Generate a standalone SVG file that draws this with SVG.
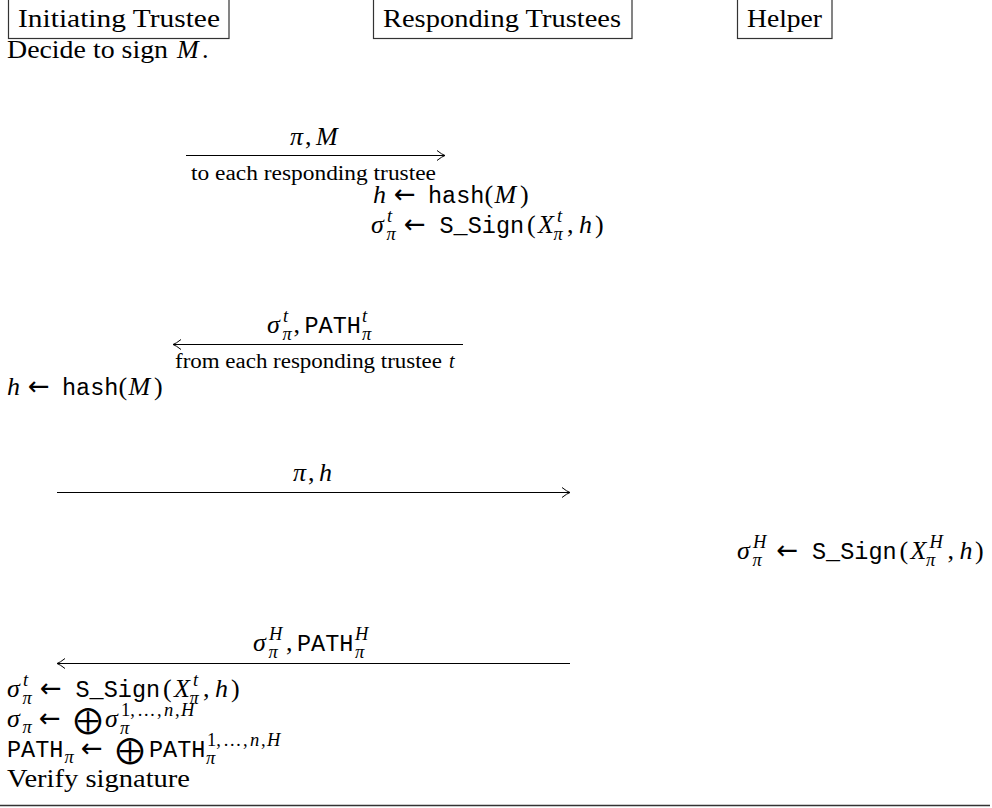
<svg xmlns="http://www.w3.org/2000/svg" width="992" height="808" viewBox="0 0 992 808">
<defs>
<style>
.bg{fill:#fff}
.box{fill:none;stroke:#333;stroke-width:1.2}
.tx{font-family:"Liberation Serif","DejaVu Serif",serif;font-size:26px;fill:#000}
.it{font-style:italic}
.tt{font-family:"Liberation Mono","DejaVu Sans Mono",monospace;font-size:23.5px}
.sc{font-size:18.5px}
.lb{font-size:20px}
.ar{font-family:"DejaVu Sans","DejaVu Serif",sans-serif;font-size:26px}
.op{font-family:"DejaVu Sans","DejaVu Serif",sans-serif;font-size:28px}
.ln{fill:none;stroke:#000;stroke-width:1.1}
.rule{stroke:#333;stroke-width:1.6}
</style>
<marker id="ah" viewBox="-10 -6 12 12" refX="0" refY="0" markerWidth="12" markerHeight="12" markerUnits="userSpaceOnUse" orient="auto">
<path d="M -8,-5 Q -3,-1 0,0 Q -3,1 -8,5" fill="none" stroke="#000" stroke-width="1"/>
</marker>
</defs>
<rect class="bg" x="0" y="0" width="992" height="808"/>

<g id="node-initiating-trustee">
<rect class="box" x="8.5" y="-1" width="220.5" height="39.5"/>
<text class="tx" x="18" y="27" textLength="202" lengthAdjust="spacingAndGlyphs">Initiating Trustee</text>
</g>
<g id="node-responding-trustees">
<rect class="box" x="373.5" y="-1" width="258.5" height="39.5"/>
<text class="tx" x="383" y="27" textLength="238" lengthAdjust="spacingAndGlyphs">Responding Trustees</text>
</g>
<g id="node-helper">
<rect class="box" x="737.5" y="-1" width="94.5" height="39.5"/>
<text class="tx" x="747" y="27" textLength="75" lengthAdjust="spacingAndGlyphs">Helper</text>
</g>

<g id="step-decide">
<text class="tx"><tspan x="7" y="58" textLength="161" lengthAdjust="spacingAndGlyphs">Decide to sign</tspan><tspan class="it" x="177" y="58">M</tspan><tspan x="202" y="58">.</tspan></text>
</g>

<g id="step-responder-compute">
<text class="tx"><tspan class="it" x="373" y="203">h</tspan><tspan class="ar" x="394" y="203">←</tspan><tspan class="tt" x="428" y="203">hash</tspan><tspan x="484.5" y="203">(</tspan><tspan class="it" x="494.5" y="203">M</tspan><tspan x="520" y="203">)</tspan></text>
<text class="tx"><tspan class="it" x="371" y="233">σ</tspan><tspan class="it sc" x="387" y="222">t</tspan><tspan class="it sc" x="386.5" y="240">π</tspan><tspan class="ar" x="404" y="233">←</tspan><tspan class="tt" x="439.5" y="233">S_Sign</tspan><tspan x="527" y="233">(</tspan><tspan class="it" x="538" y="233">X</tspan><tspan class="it sc" x="557" y="222">t</tspan><tspan class="it sc" x="553.5" y="240">π</tspan><tspan x="567" y="233">,</tspan><tspan class="it" x="579" y="233">h</tspan><tspan x="595" y="233">)</tspan></text>
</g>

<g id="step-initiator-hash">
<text class="tx"><tspan class="it" x="7" y="395">h</tspan><tspan class="ar" x="28" y="395">←</tspan><tspan class="tt" x="62" y="395">hash</tspan><tspan x="118.5" y="395">(</tspan><tspan class="it" x="128.5" y="395">M</tspan><tspan x="154" y="395">)</tspan></text>
</g>

<g id="step-helper-sign">
<text class="tx"><tspan class="it" x="737" y="559">σ</tspan><tspan class="it sc" x="753" y="548">H</tspan><tspan class="it sc" x="752.5" y="566">π</tspan><tspan class="ar" x="776.5" y="559">←</tspan><tspan class="tt" x="812" y="559">S_Sign</tspan><tspan x="899.5" y="559">(</tspan><tspan class="it" x="910.5" y="559">X</tspan><tspan class="it sc" x="929.5" y="548">H</tspan><tspan class="it sc" x="926" y="566">π</tspan><tspan x="947.5" y="559">,</tspan><tspan class="it" x="959.5" y="559">h</tspan><tspan x="975" y="559">)</tspan></text>
</g>

<g id="step-initiator-combine">
<text class="tx"><tspan class="it" x="7" y="697">σ</tspan><tspan class="it sc" x="23" y="686">t</tspan><tspan class="it sc" x="22.5" y="704">π</tspan><tspan class="ar" x="40" y="697">←</tspan><tspan class="tt" x="75.5" y="697">S_Sign</tspan><tspan x="163" y="697">(</tspan><tspan class="it" x="174" y="697">X</tspan><tspan class="it sc" x="193" y="686">t</tspan><tspan class="it sc" x="189.5" y="704">π</tspan><tspan x="203" y="697">,</tspan><tspan class="it" x="215" y="697">h</tspan><tspan x="231" y="697">)</tspan></text>
<text class="tx"><tspan class="it" x="7" y="727">σ</tspan><tspan class="it sc" x="22.5" y="733">π</tspan><tspan class="ar" x="39" y="727">←</tspan><tspan class="op" x="74" y="729">⨁</tspan><tspan class="it" x="105" y="727">σ</tspan><tspan class="sc" x="121" y="716">1,</tspan><tspan class="sc" x="137" y="716">…</tspan><tspan class="sc" x="157" y="716">,</tspan><tspan class="it sc" x="164" y="716">n</tspan><tspan class="sc" x="175" y="716">,</tspan><tspan class="it sc" x="181" y="716">H</tspan><tspan class="it sc" x="120" y="734">π</tspan></text>
<text class="tx"><tspan class="tt" x="7" y="757">PATH</tspan><tspan class="it sc" x="64.5" y="763">π</tspan><tspan class="ar" x="81" y="757">←</tspan><tspan class="op" x="116" y="759">⨁</tspan><tspan class="tt" x="149" y="757">PATH</tspan><tspan class="sc" x="207" y="746">1,</tspan><tspan class="sc" x="223" y="746">…</tspan><tspan class="sc" x="243" y="746">,</tspan><tspan class="it sc" x="250" y="746">n</tspan><tspan class="sc" x="261" y="746">,</tspan><tspan class="it sc" x="267" y="746">H</tspan><tspan class="it sc" x="206" y="764">π</tspan></text>
<text class="tx" x="7" y="787" textLength="183" lengthAdjust="spacingAndGlyphs">Verify signature</text>
</g>

<g id="connectors">
<line class="ln" x1="186" y1="155.5" x2="445" y2="155.5" marker-end="url(#ah)"/>
<line class="ln" x1="463" y1="344.5" x2="173" y2="344.5" marker-end="url(#ah)"/>
<line class="ln" x1="57" y1="492.5" x2="570" y2="492.5" marker-end="url(#ah)"/>
<line class="ln" x1="570" y1="663.5" x2="57" y2="663.5" marker-end="url(#ah)"/>
</g>

<g id="connector-labels">
<text class="tx"><tspan class="it" x="290" y="145">π</tspan><tspan x="305" y="145">,</tspan><tspan class="it" x="316" y="145">M</tspan></text>
<text class="tx lb" x="191" y="180" textLength="245" lengthAdjust="spacingAndGlyphs">to each responding trustee</text>
<text class="tx"><tspan class="it" x="267" y="333">σ</tspan><tspan class="it sc" x="283" y="322">t</tspan><tspan class="it sc" x="282.5" y="340">π</tspan><tspan x="293.5" y="333">,</tspan><tspan class="tt" x="304.5" y="333">PATH</tspan><tspan class="it sc" x="362" y="322">t</tspan><tspan class="it sc" x="362" y="340">π</tspan></text>
<text class="tx lb"><tspan x="175" y="368" textLength="267" lengthAdjust="spacingAndGlyphs">from each responding trustee</tspan><tspan class="it" x="449" y="368">t</tspan></text>
<text class="tx"><tspan class="it" x="293" y="481">π</tspan><tspan x="308" y="481">,</tspan><tspan class="it" x="319" y="481">h</tspan></text>
<text class="tx"><tspan class="it" x="253" y="651">σ</tspan><tspan class="it sc" x="269" y="640">H</tspan><tspan class="it sc" x="268.5" y="658">π</tspan><tspan x="286" y="651">,</tspan><tspan class="tt" x="297" y="651">PATH</tspan><tspan class="it sc" x="355" y="640">H</tspan><tspan class="it sc" x="355" y="658">π</tspan></text>
</g>

<line class="rule" x1="0" y1="805.5" x2="990" y2="805.5"/>
</svg>
